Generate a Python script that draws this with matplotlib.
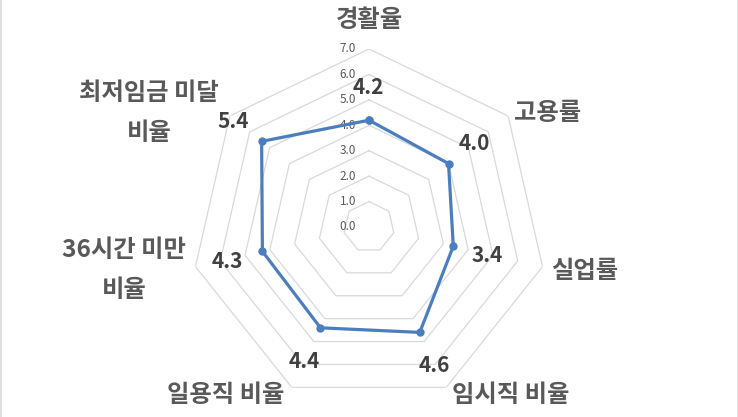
import numpy as np
import matplotlib
matplotlib.use('Agg')
import matplotlib.pyplot as plt
from matplotlib.lines import Line2D
from matplotlib.transforms import ScaledTranslation

plt.rcParams['font.family'] = ['Noto Sans CJK KR', 'DejaVu Sans']

# Data
categories = ['경활율', '고용률', '실업률', '임시직 비율', '일용직 비율', '36시간 미만\n비율', '최저임금 미달\n비율']
values = [4.2, 4.0, 3.4, 4.6, 4.4, 4.3, 5.4]
ring_levels = [1, 2, 3, 4, 5, 6, 7]
tick_values = [0, 1, 2, 3, 4, 5, 6, 7]

# label positions in pixels (x, y from top) of the 738x417 picture
cat_pos = [(369, 20), (548, 113), (585, 271), (511, 395), (226, 395), (124, 270), (149, 113)]
val_pos = [(368, 88), (474, 143), (487, 256), (434, 366), (304, 361), (227, 261), (233, 122)]

W, H = 738, 417
fig = plt.figure(figsize=(W / 100, H / 100), dpi=100)

# polar axes: centre at (369, 227), radius 7 -> 178 px
cx, cy, R = 369, 227, 178
ax = fig.add_axes([(cx - R) / W, (H - cy - R) / H, 2 * R / W, 2 * R / H], projection='polar')
ax.set_theta_zero_location('N')
ax.set_theta_direction(-1)
ax.set_ylim(0, 7)
ax.grid(False)
ax.set_xticks([])
ax.set_yticks([])
ax.spines['polar'].set_visible(False)
ax.patch.set_alpha(0)

n = len(categories)
theta = np.linspace(0, 2 * np.pi, n, endpoint=False)
theta_closed = np.append(theta, theta[0])

# heptagon grid
for lvl in ring_levels:
    ax.plot(theta_closed, [lvl] * (n + 1), color='#d9d9d9', linewidth=0.9, zorder=1)

# data line
vals_closed = values + values[:1]
ax.plot(theta_closed, vals_closed, color='#4a7ebf', linewidth=2.3, marker='o',
        markersize=5, zorder=3, clip_on=False)

# radial tick labels
offset = ScaledTranslation(-0.13, 0, fig.dpi_scale_trans)
for t in tick_values:
    ax.text(0, t, f'{t:.1f}', ha='right', va='center', fontsize=8.5, color='#595959',
            transform=ax.transData + offset, zorder=2)

# category labels
for lab, (x, y) in zip(categories, cat_pos):
    fig.text(x / W, 1 - y / H, lab, ha='center', va='center', fontsize=17.5,
             fontweight='heavy', color='#595959', linespacing=1.85)

# value labels
for v, (x, y) in zip(values, val_pos):
    fig.text(x / W, 1 - y / H, f'{v:.1f}', ha='center', va='center', fontsize=15,
             fontweight='heavy', color='#404040')

# chart area side borders
fig.add_artist(Line2D([0.5 / W, 0.5 / W], [0, 1], color='#d9d9d9', linewidth=1.2))
fig.add_artist(Line2D([1 - 0.5 / W, 1 - 0.5 / W], [0, 1], color='#d9d9d9', linewidth=1.2))

fig.savefig('out.png', dpi=100)
